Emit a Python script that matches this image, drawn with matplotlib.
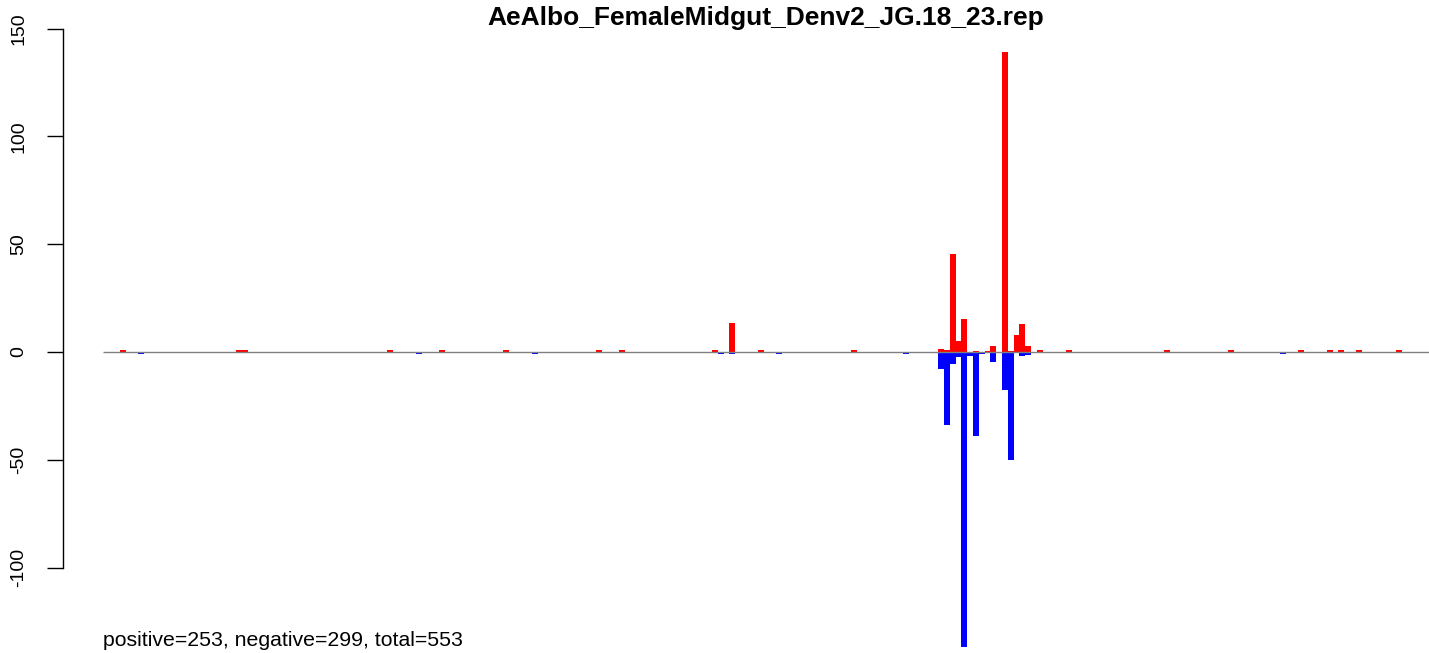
import numpy as np
import matplotlib
matplotlib.use("Agg")
import matplotlib.pyplot as plt

plt.rcParams['font.family'] = ['Liberation Sans', 'DejaVu Sans']

# chart data, bins along the x axis (one bin = one bar slot)
n_bins = 240
title = "AeAlbo_FemaleMidgut_Denv2_JG.18_23.rep"
summary = "positive=253, negative=299, total=553"

# positive (red) bars
pos_bins = [3, 23, 24, 49, 58, 69, 85, 89, 105, 108, 113, 129,
            144, 145, 146, 147, 148, 150, 152, 153, 155, 156, 157, 158, 159,
            161, 166, 183, 194, 206, 211, 213, 216, 223]
pos_vals = [0.9, 0.9, 0.9, 0.9, 0.9, 0.9, 0.9, 0.9, 0.9, 13.5, 0.9, 0.9,
            1.5, 1.0, 45.5, 5.0, 15.5, 0.6, 0.6, 3.0, 139.0, 0.6, 8.0, 13.0, 3.0,
            0.9, 0.9, 0.9, 0.9, 0.9, 0.9, 0.9, 0.9, 0.9]

# negative (blue) bars
neg_bins = [6, 54, 74, 106, 108, 116, 138,
            144, 145, 146, 147, 148, 149, 150, 151, 153, 155, 156, 158, 159, 203]
neg_vals = [-0.9, -0.9, -0.9, -0.9, -0.9, -0.9, -0.9,
            -8.0, -34.0, -5.5, -2.5, -137.0, -2.0, -39.0, -0.8, -4.5, -17.5, -50.0, -2.0, -1.5,
            -0.9]

yticks = [-100, -50, 0, 50, 100, 150]

pos = np.zeros(n_bins)
neg = np.zeros(n_bins)
pos[pos_bins] = pos_vals
neg[neg_bins] = neg_vals
x = np.arange(n_bins)

W, H = 1429, 653
fig = plt.figure(figsize=(W / 100, H / 100), dpi=100)
ax = fig.add_axes([63 / W, 0, 1 - 63 / W, 1])

bar_px = 5.8
ax.set_xlim(-40 / bar_px, (W - 103) / bar_px)
ax.set_ylim(-(H - 352) / 2.155, 352 / 2.155)

ax.bar(x, pos, width=1, align='edge', color='#ff0000', linewidth=0)
ax.bar(x, neg, width=1, align='edge', color='#0000ff', linewidth=0)
ax.hlines(0, 0, n_bins, color='#808080', linewidth=1.0, zorder=3)

for side in ['top', 'right', 'bottom']:
    ax.spines[side].set_visible(False)
ax.spines['left'].set_bounds(-100, 150)
ax.spines['left'].set_linewidth(1.0)
ax.set_xticks([])
ax.set_yticks(yticks)
ax.set_yticklabels([str(v) for v in yticks])
ax.tick_params(axis='y', length=11.5, width=1.0, pad=14, labelsize=14,
               labelrotation=90)
for lbl in ax.get_yticklabels():
    lbl.set_verticalalignment('center')

fig.text(766 / W, 1 - 18 / H, title, ha='center', va='center',
         fontsize=19, fontweight='bold')
fig.text(103 / W, 1 - 640 / H, summary, ha='left', va='center', fontsize=15.3)

fig.savefig("out.png", dpi=100)
